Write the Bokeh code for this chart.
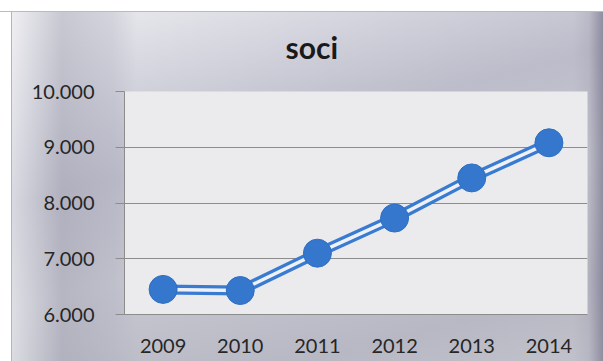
from bokeh.plotting import figure
from bokeh.models import ColumnDataSource, FactorRange, Range1d, FixedTicker
from bokeh.embed import file_html
from bokeh.resources import INLINE

# Number of members per year
years = ["2009", "2010", "2011", "2012", "2013", "2014"]
soci = [6450, 6430, 7100, 7730, 8450, 9080]

# Value axis ticks and their Italian-style labels
y_ticks = [6000, 7000, 8000, 9000, 10000]
y_tick_labels = ["6.000", "7.000", "8.000", "9.000", "10.000"]

chart_title = "soci"

src = ColumnDataSource(dict(year=years, soci=soci))

# Page margin in white, a thin chart border, then a silver brushed-metal fill
chart_bg = ", ".join([
    "linear-gradient(to bottom, #ffffff 0px, #ffffff 11px, #b9b9be 11px, #b9b9be 12px, rgba(0,0,0,0) 12px)",
    "linear-gradient(to right, #ffffff 0px, #ffffff 11px, #b4b4ba 11px, #b4b4ba 12px, rgba(0,0,0,0) 12px)",
    "linear-gradient(to right, rgba(0,0,0,0) 12px, rgba(240,240,244,0.55) 12px, rgba(160,160,176,0.45) 62px, "
    "rgba(170,170,186,0.3) 112px, rgba(0,0,0,0) 137px)",
    "linear-gradient(to left, rgba(120,120,142,0.7) 0px, rgba(160,160,176,0.3) 14px, rgba(0,0,0,0) 30px)",
    "linear-gradient(165deg, #f1f1f4 0%, #d4d4de 22%, #bcbcca 40%, #c8c8d2 60%, #b8b8c4 85%, #c2c2cc 100%)",
])

p = figure(
    width=603, height=361,
    x_range=FactorRange(*years),
    y_range=Range1d(6000, 10000),
    title=chart_title,
    output_backend="svg",
    toolbar_location=None,
    min_border_left=124, min_border_right=16,
    min_border_top=91, min_border_bottom=47,
    border_fill_alpha=0,
    background_fill_color="#ebebed",
    outline_line_color=None,
    styles={"background": chart_bg},
)

# Title sits centred over the whole chart, not over the plot area
p.title.text_font = "Lato"
p.title.text_font_style = "bold"
p.title.text_font_size = "30px"
p.title.text_color = "#1a1a1a"
p.title.align = "left"
p.title.offset = 161
p.title.vertical_align = "top"
p.title.standoff = 50

# Value axis
p.yaxis.ticker = FixedTicker(ticks=y_ticks)
p.yaxis.major_label_overrides = dict(zip(y_ticks, y_tick_labels))
p.yaxis.major_label_text_font = "Lato"
p.yaxis.major_label_text_font_size = "20px"
p.yaxis.major_label_text_color = "#262626"
p.yaxis.major_tick_out = 9
p.yaxis.major_tick_in = 0
p.yaxis.major_tick_line_color = "#8c8c8c"
p.yaxis.minor_tick_line_color = None
p.yaxis.axis_line_color = "#8c8c8c"
p.yaxis.major_label_standoff = 21

# Category axis
p.xaxis.major_label_text_font = "Lato"
p.xaxis.major_label_text_font_size = "20px"
p.xaxis.major_label_text_color = "#262626"
p.xaxis.major_tick_line_color = None
p.xaxis.axis_line_color = "#8c8c8c"
p.xaxis.major_label_standoff = 18

p.ygrid.ticker = FixedTicker(ticks=y_ticks)
p.ygrid.grid_line_color = "#8c8c8c"
p.xgrid.grid_line_color = None

# Double-stroke line: blue outer band with a light core
p.line("year", "soci", source=src, line_width=10, line_color="#3a7bd2")
p.line("year", "soci", source=src, line_width=3.5, line_color="#eef2f8")
p.scatter("year", "soci", source=src, size=28,
          fill_color="#3477cc", line_color="#2f6fc2", line_width=1)

open("out.html", "w").write(file_html(p, INLINE))
